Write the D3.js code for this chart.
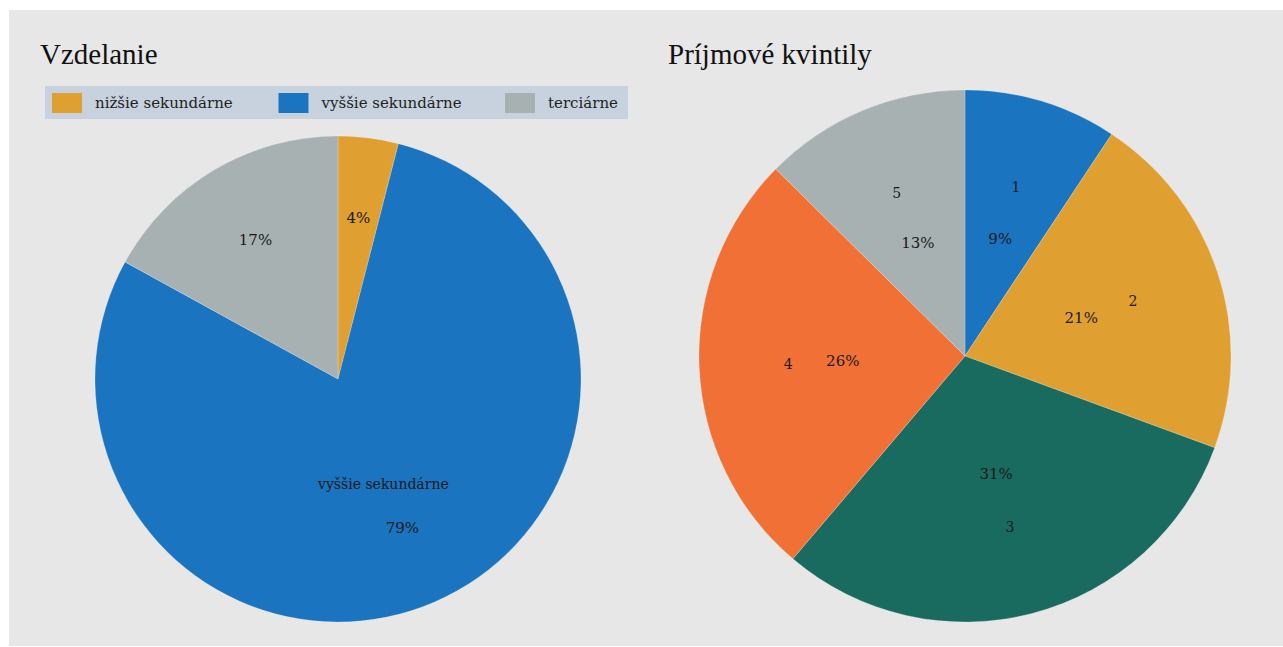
<!DOCTYPE html>
<html>
<head>
<meta charset="utf-8">
<script src="https://cdn.jsdelivr.net/npm/d3@7"></script>
<style>
  html, body { margin: 0; padding: 0; background: #ffffff; }
  svg { display: block; }
</style>
</head>
<body>
<svg id="chart" width="1283" height="647"></svg>
<script>
// ---- Data ----
const eduCategories = ["nižšie sekundárne", "vyššie sekundárne", "terciárne"];
const eduValues = [4, 79, 17];
const eduShowName = [false, true, false];
const eduColors = ["#DF9F31", "#1A74BF", "#A8B1B1"];

const incCategories = ["1", "2", "3", "4", "5"];
const incValues = [9.3, 21.3, 30.6, 26.2, 12.6];
const incColors = ["#1A74BF", "#DF9F31", "#1A6B5F", "#F07035", "#A8B1B1"];

const titles = ["Vzdelanie", "Príjmové kvintily"];

// ---- Layout ----
const svg = d3.select("#chart");
const labelFont = "'DejaVu Serif', serif";
const titleFont = "'Liberation Serif', 'DejaVu Serif', serif";

svg.append("rect").attr("x", 9).attr("y", 10).attr("width", 1274).attr("height", 636)
  .attr("fill", "#E7E7E7");

// Titles
svg.append("text").attr("x", 40).attr("y", 64).text(titles[0])
  .attr("font-family", titleFont).attr("font-size", 29).attr("fill", "#111");
svg.append("text").attr("x", 668).attr("y", 64).text(titles[1])
  .attr("font-family", titleFont).attr("font-size", 29).attr("fill", "#111");

// Legend
const legend = svg.append("g");
legend.append("rect").attr("x", 45).attr("y", 86).attr("width", 583).attr("height", 33)
  .attr("fill", "#C7D2DE");
const legendX = d3.scalePoint().domain(eduCategories).range([52, 505]);
eduCategories.forEach((c, i) => {
  const x = legendX(c);
  legend.append("rect").attr("x", x).attr("y", 93).attr("width", 30).attr("height", 20)
    .attr("fill", eduColors[i]);
  legend.append("text").attr("x", x + 43).attr("y", 108).text(c)
    .attr("font-family", labelFont).attr("font-size", 15).attr("fill", "#222");
});

const pctFmt = v => Math.round(v) + "%";

function drawPie(cx, cy, r, cats, vals, colors, nameK, pctK, showName) {
  const total = d3.sum(vals);
  const pie = d3.pie().sort(null).value(d => d.v);
  const data = pie(cats.map((c, i) => ({ c, v: vals[i], col: colors[i], show: showName ? showName[i] : true })));
  const arc = d3.arc().innerRadius(0).outerRadius(r);
  const g = svg.append("g").attr("transform", `translate(${cx},${cy})`);
  g.selectAll("path.slice").data(data).join("path").attr("class", "slice")
    .attr("d", arc).attr("fill", d => d.data.col)
    .attr("stroke", "rgba(255,255,255,0.35)").attr("stroke-width", 0.6);
  const nameArc = d3.arc().innerRadius(r * nameK).outerRadius(r * nameK);
  const pctArc = d3.arc().innerRadius(r * pctK).outerRadius(r * pctK);
  g.selectAll("text.name").data(data.filter(d => d.data.show)).join("text").attr("class", "name")
    .attr("x", d => nameArc.centroid(d)[0]).attr("y", d => nameArc.centroid(d)[1])
    .attr("text-anchor", "middle").attr("dominant-baseline", "central")
    .attr("font-family", labelFont).attr("font-size", 14).attr("fill", "#1a1a1a")
    .text(d => d.data.c);
  g.selectAll("text.pct").data(data).join("text").attr("class", "pct")
    .attr("x", d => pctArc.centroid(d)[0]).attr("y", d => pctArc.centroid(d)[1])
    .attr("text-anchor", "middle").attr("dominant-baseline", "central")
    .attr("font-family", labelFont).attr("font-size", 15).attr("fill", "#1a1a1a")
    .text(d => pctFmt(d.data.v / total * 100));
}

drawPie(338, 379, 243, eduCategories, eduValues, eduColors, 0.47, 0.667, eduShowName);
drawPie(965, 356, 266, incCategories, incValues, incColors, 0.665, 0.46, null);
</script>
</body>
</html>
